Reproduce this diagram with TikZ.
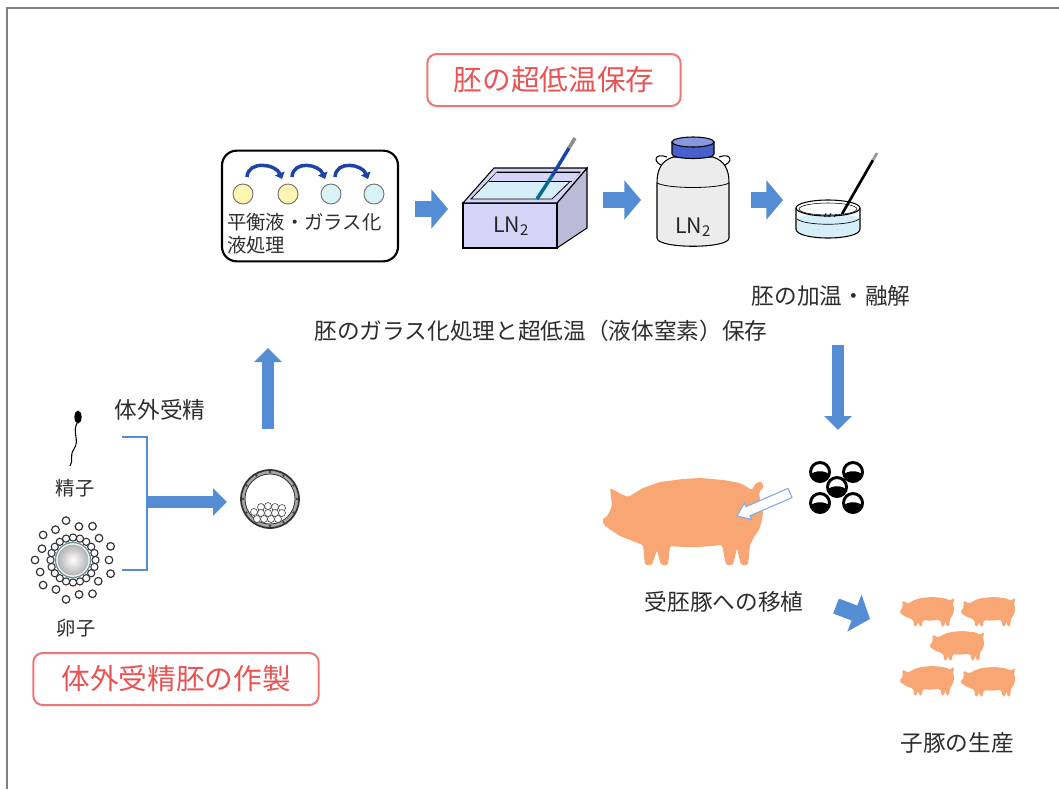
\documentclass[tikz,border=0pt]{standalone}
\usepackage{fontspec}
\setmainfont{Noto Sans CJK JP}
\usetikzlibrary{positioning,calc,arrows.meta}

\definecolor{flowblue}{RGB}{84,141,212}
\definecolor{curlblue}{RGB}{28,68,168}
\definecolor{titlered}{RGB}{232,84,84}
\definecolor{boxred}{RGB}{240,118,118}
\definecolor{pigskin}{RGB}{247,166,116}
\definecolor{txtgray}{RGB}{45,45,45}
\definecolor{eqyellow}{RGB}{255,245,178}
\definecolor{vitcyan}{RGB}{216,242,245}
\definecolor{boxlav}{RGB}{212,212,246}
\definecolor{lnwater}{RGB}{214,238,248}
\definecolor{tankgray}{RGB}{236,236,236}
\definecolor{capblue}{RGB}{72,96,205}
\definecolor{eggring}{RGB}{110,150,150}

\tikzset{
  pics/pig/.style={code={
    \fill[pigskin,rounded corners=1.2pt]
      (-76,-5) -- (-71,-16) -- (-73,-34) -- (-62,-28) -- (-55,-25) -- (-40,-34) -- (-23,-40)
      -- (0,-43) -- (17,-44) -- (40,-42) -- (57,-39) -- (69,-32) -- (72,-38) -- (78,-41)
      -- (81,-35) -- (76,-30) -- (77,-22) -- (80,-10) -- (79,-2) -- (76,8) -- (72,13)
      -- (67,23) -- (65,43) -- (58,43) -- (54,26) -- (50,43) -- (43,43) -- (39,23)
      -- (17,25) -- (0,25) -- (-13,24) -- (-15,43) -- (-22,43) -- (-26,28) -- (-31,43)
      -- (-38,43) -- (-40,23) -- (-53,18) -- (-63,14) -- (-75,6) -- (-80,2) -- (-80,-4) -- cycle;
  }},
  pics/embryo/.style={code={
    \begin{scope}
      \clip (0,0) circle[radius=9];
      \fill (-10,3) .. controls (-5,-2) and (5,-2) .. (10,3) -- (10,10) -- (-10,10) -- cycle;
    \end{scope}
    \draw[line width=2.2pt] (0,0) circle[radius=9.5];
  }}
}

\begin{document}
\begin{tikzpicture}[x=0.75pt,y=-0.75pt,
    lbl/.style={text=txtgray,inner sep=0pt,font=\fontsize{17}{20}\selectfont},
    smalllbl/.style={text=txtgray,inner sep=0pt,font=\fontsize{14.5}{17}\selectfont},
    lnlbl/.style={text=black!85,inner sep=0pt,font=\fontsize{16}{18}\selectfont},
    titlebox/.style={draw=boxred,line width=1.5pt,rounded corners=7pt,text=titlered,
        font=\fontsize{21.5}{24}\selectfont,minimum height=39pt,inner sep=0pt},
    drop/.style={circle,draw=black!55,line width=0.7pt,minimum size=15pt,inner sep=0pt},
    flow/.style={draw=flowblue,line width=9.5pt,-{Triangle[length=10.5pt,width=20pt]}},
    bigflow/.style={draw=flowblue,line width=12pt,-{Triangle[length=12.5pt,width=29pt]}},
    curl/.style={draw=curlblue,line width=2.6pt,-{Triangle[length=4.5pt,width=7.5pt]}}]

\useasboundingbox (0,0) rectangle (1059,789);
\draw[black!50,line width=2.2pt] (7,789) -- (7,8) -- (1059,8);

\node[titlebox,minimum width=190pt] (cryo) at (554,80) {胚の超低温保存};
\node[titlebox,minimum width=214pt] (ivfmake) at (176,679) {体外受精胚の作製};

% vitrification steps
\node[draw,line width=1.6pt,rounded corners=11pt,minimum width=132pt,minimum height=83pt] (vitbox) at (310,206) {};
\node[drop,fill=eqyellow] (c1) at (243,194) {};
\node[drop,fill=eqyellow] (c2) at (288,194) {};
\node[drop,fill=vitcyan] (c3) at (331,194) {};
\node[drop,fill=vitcyan] (c4) at (374,194) {};
\draw[curl] ($(c1)+(4,-17)$) .. controls +(1,-17) and +(-6,-15) .. ($(c2)+(-6,-15)$);
\draw[curl] ($(c2)+(4,-17)$) .. controls +(1,-17) and +(-6,-15) .. ($(c3)+(-6,-15)$);
\draw[curl] ($(c3)+(4,-17)$) .. controls +(1,-17) and +(-6,-15) .. ($(c4)+(-6,-15)$);
\node[smalllbl,anchor=base west] (vit1) at (227,229) {平衡液・ガラス化};
\node[smalllbl,anchor=base west] (vit2) at (227,252) {液処理};

% LN2 bath
\draw[fill=boxlav!88!black,line width=0.8pt] (557,203) -- (587,168) -- (587,228) -- (557,248) -- cycle;
\draw[fill=boxlav,line width=0.8pt] (463,203) rectangle (557,248);
\draw[fill=boxlav,line width=0.8pt] (463,203) -- (494,168) -- (587,168) -- (557,203) -- cycle;
\draw[fill=lnwater,line width=0.6pt] (471,199) -- (497,172) -- (580,172) -- (552,199) -- cycle;
\fill[boxlav] (497,172) -- (580,172) -- (572,181) -- (489,181) -- cycle;
\draw[line width=0.5pt] (489,181) -- (572,181) (497,172) -- (580,172);
\draw[line width=2.6pt,teal!60!curlblue] (537,199) -- (552,176);
\draw[line width=2.6pt,curlblue] (552,176) -- (569,148);
\draw[line width=2.6pt,black!45] (569,148) -- (575,138);
\node[lnlbl] (bath) at (511,226) {LN\textsubscript{2}};

% LN2 tank
\draw[line width=0.8pt] (664,166) .. controls (652,163) and (654,152) .. (667,157);
\draw[line width=0.8pt] (722,166) .. controls (734,163) and (732,152) .. (719,157);
\draw[fill=tankgray,line width=0.8pt] (673,157) .. controls (661,161) and (657,170) .. (657,183)
  -- (657,238) .. controls (657,249) and (729,249) .. (729,238) -- (729,183)
  .. controls (729,170) and (725,161) .. (713,157) -- cycle;
\draw[line width=0.6pt] (657,183) .. controls (668,189) and (718,189) .. (729,183);
\draw[fill=capblue,line width=0.8pt] (672,142) -- (672,154) .. controls (672,160) and (714,160) .. (714,154) -- (714,142) -- cycle;
\draw[fill=capblue!65!white,line width=0.8pt] (693,142) ellipse[x radius=21,y radius=5];
\node[lnlbl] (tank) at (693,227) {LN\textsubscript{2}};

% warming dish
\fill[lnwater] (797,219) -- (797,229) .. controls (797,241) and (859,241) .. (859,229) -- (859,219)
  .. controls (851,226) and (805,226) .. cycle;
\fill[lnwater] (828,219) ellipse[x radius=31,y radius=5];
\draw[line width=0.5pt] (797,219) .. controls (805,226) and (851,226) .. (859,219);
\draw[line width=0.8pt] (796,208) -- (796,229) .. controls (796,241) and (860,241) .. (860,229) -- (860,208);
\draw[line width=0.8pt] (828,208) ellipse[x radius=32,y radius=8];
\draw[line width=0.4pt] (828,209) ellipse[x radius=29,y radius=6];
\draw[line width=0.5pt] (824,217) -- (826,213) (829,217) -- (831,213) (834,217) -- (836,214);
\draw[line width=2pt] (842,214) -- (873,160);
\draw[line width=2pt,black!40] (873,160) -- (877,153);
\node[lbl] (thaw) at (831,296) {胚の加温・融解};

\node[lbl] (vitlong) at (541,331) {胚のガラス化処理と超低温（液体窒素）保存};

% flow arrows
\coordinate (f1s) at (415,209); \coordinate (f1e) at (448,209);
\coordinate (f2s) at (603,200); \coordinate (f2e) at (641,200);
\coordinate (f3s) at (751,200); \coordinate (f3e) at (783,200);
\draw[bigflow] (f1s) -- (f1e);
\draw[bigflow] (f2s) -- (f2e);
\draw[bigflow] (f3s) -- (f3e);
\coordinate (upS) at (268,429); \coordinate (upE) at (268,348);
\draw[flow] (upS) -- (upE);
\coordinate (dnS) at (838,345); \coordinate (dnE) at (838,430);
\draw[flow] (dnS) -- (dnE);

% in vitro fertilization
\node[lbl] (ivf) at (160,410) {体外受精};
\fill (78,417) ellipse[x radius=3.6,y radius=6.5];
\draw[line width=0.8pt] (77,423) .. controls (72,433) and (80,440) .. (74,449) .. controls (69,456) and (74,460) .. (70,466);
\node[smalllbl] (sperm) at (75,488) {精子};

\coordinate (egg) at (73,560);
\foreach \a/\r in {0/36,20/40,40/33,60/39,80/35,100/40,120/34,140/39,160/35,180/38,200/33,220/39,240/35,260/40,280/34,300/39,320/34,340/40}
  \draw[black!80,fill=white,line width=0.9pt] ($(egg)+(\a:\r)$) circle[radius=3.8];
\foreach \a in {0,18,...,342}
  \draw[black!80,fill=white,line width=0.8pt] ($(egg)+(\a:22.5)$) circle[radius=3.6];
\draw[eggring,line width=1pt] (egg) circle[radius=17.5];
\shade[inner color=white,outer color=black!30] (egg) circle[radius=15.5];
\node[smalllbl] (ovum) at (76,628) {卵子};

\coordinate (brTop) at (122,437); \coordinate (brBot) at (122,570);
\coordinate (brMid) at (147,502); \coordinate (blastIn) at (227,502);
\draw[flowblue,line width=2.2pt] (brTop) -| (brMid) |- (brBot);
\draw[flow] (brMid) -- (blastIn);

% blastocyst
\coordinate (blast) at (270,499);
\draw[black!35,line width=3pt] (blast) circle[radius=27];
\draw[black!80,line width=1.3pt] (blast) circle[radius=29];
\draw[black!80,line width=0.6pt] (blast) circle[radius=25];
\foreach \a in {0,30,...,330}
  \fill[black!75] ($(blast)+(\a:27)$) circle[radius=1.3];
\foreach \x/\y in {-9/8,-2/7,5/8,12/9,-16/13,-9/14,-2/14,5/14,12/14,-13/20,-6/20,1/20,8/20}
  \draw[black!70,fill=white,line width=0.5pt] ($(blast)+(\x,\y)$) circle[radius=3.5];

% transfer
\foreach \p in {(820,472),(853,472),(837,487),(820,503),(853,503)}
  \pic at \p {embryo};
\pic at (683,522) {pig};
\coordinate (insTail) at (790,493);
\coordinate (insTip) at (737,516);
\draw[flowblue!75!white,fill=white,line width=0.8pt,line join=miter]
  ($(insTail)+(-2,-4.6)$) -- ($(insTip)+(9,-9.4)$) -- ($(insTip)+(7.4,-13)$) -- (insTip)
  -- ($(insTip)+(14.6,3.4)$) -- ($(insTip)+(13,-0.2)$) -- ($(insTail)+(2,4.6)$) -- cycle;
\node[lbl] (recip) at (724,602) {受胚豚への移植};

\coordinate (pgS) at (836,606); \coordinate (pgE) at (870,619);
\draw[bigflow] (pgS) -- (pgE);
\foreach \p in {(927,612),(988,612),(957,646),(927,681),(988,682)}
  \pic[scale=0.34] at \p {pig};
\node[lbl] (piglets) at (957,743) {子豚の生産};

\end{tikzpicture}
\end{document}
